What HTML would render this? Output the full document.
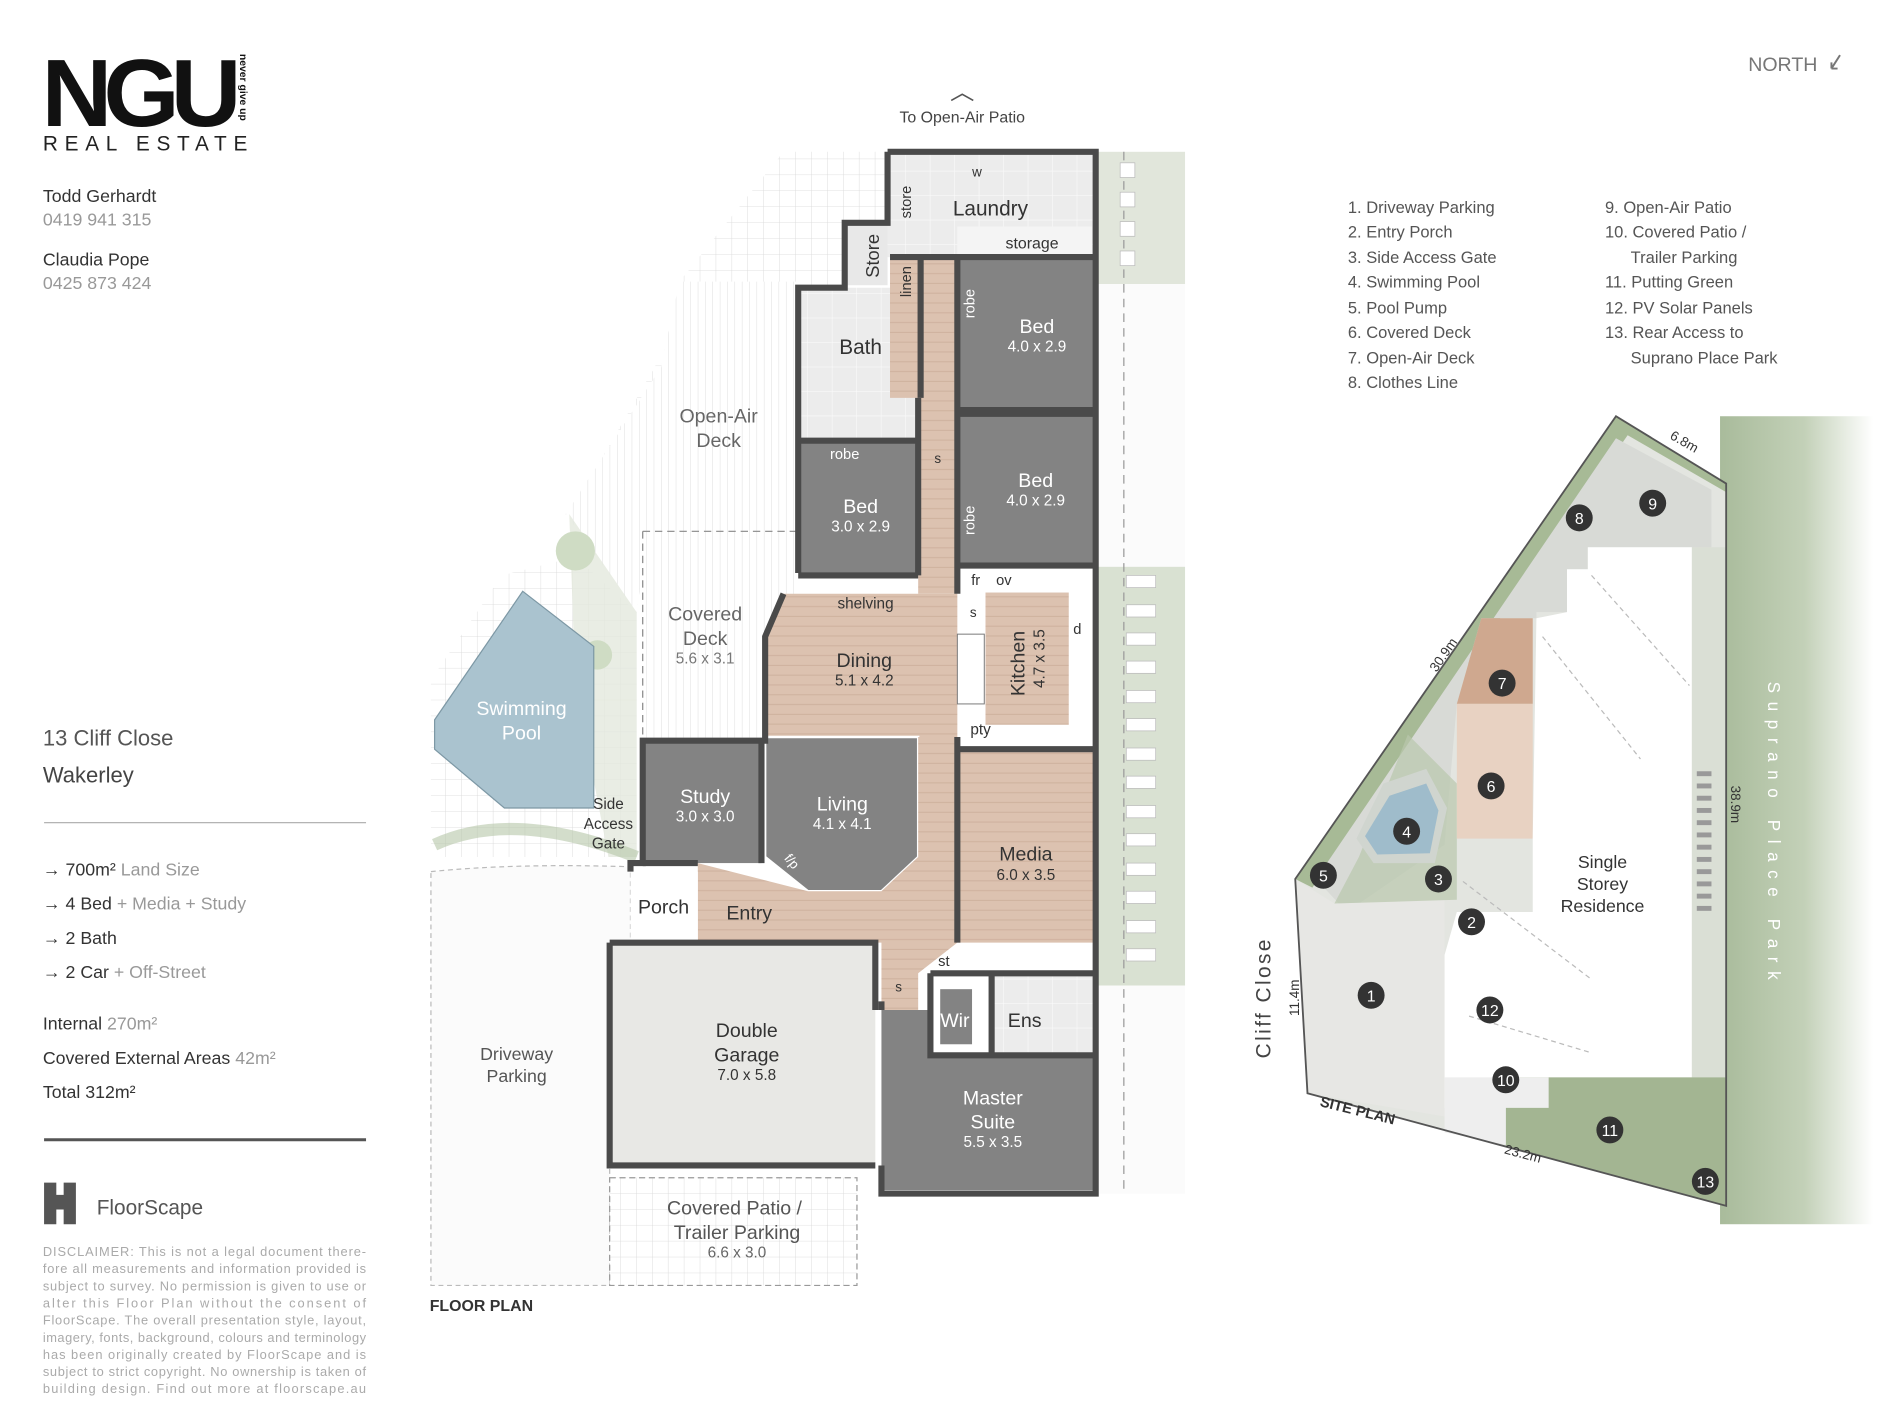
<!DOCTYPE html>
<html><head><meta charset="utf-8"><style>
html,body{margin:0;padding:0;background:#fff}
svg{display:block}
text{font-family:"Liberation Sans",sans-serif}
</style></head><body>
<svg width="1900" height="1425" viewBox="0 0 1552 1164" xmlns="http://www.w3.org/2000/svg">
<defs>
<pattern id="grid" width="13" height="13" patternUnits="userSpaceOnUse"><rect width="13" height="13" fill="#fff"/><path d="M13 0V13H0" fill="none" stroke="#d8d8d8" stroke-width="0.7"/></pattern>
<pattern id="vlines" width="6" height="6" patternUnits="userSpaceOnUse"><rect width="6" height="6" fill="#fff"/><path d="M0 0V6" stroke="#dadada" stroke-width="0.7"/></pattern>
<pattern id="wood" width="60" height="8" patternUnits="userSpaceOnUse"><rect width="60" height="8" fill="#dcc2b0"/><path d="M0 7.5H60" stroke="#ceb19d" stroke-width="0.8"/></pattern>
<pattern id="tile" width="20" height="20" patternUnits="userSpaceOnUse"><rect width="20" height="20" fill="#ececec"/><path d="M20 0V20H0" fill="none" stroke="#fafafa" stroke-width="1"/></pattern>
<linearGradient id="trees" x1="0" x2="1" y1="0" y2="0"><stop offset="0" stop-color="#93aa82"/><stop offset="0.55" stop-color="#b4c5a6"/><stop offset="1" stop-color="#fff"/></linearGradient>
</defs>

<!-- LEFT PANEL -->
<text x="34" y="103" font-size="78" font-weight="bold" fill="#111" letter-spacing="-7" textLength="156" lengthAdjust="spacingAndGlyphs">NGU</text>
<text transform="translate(196,44) rotate(90)" font-size="8.5" font-weight="bold" fill="#111">never give up</text>
<text x="35" y="123" font-size="17" fill="#222" letter-spacing="5.5">REAL ESTATE</text>
<text x="35" y="165" font-size="14.5" fill="#333">Todd Gerhardt</text>
<text x="35" y="184" font-size="14.5" fill="#999">0419 941 315</text>
<text x="35" y="217" font-size="14.5" fill="#333">Claudia Pope</text>
<text x="35" y="236" font-size="14.5" fill="#999">0425 873 424</text>
<text x="35" y="609" font-size="18" fill="#555">13 Cliff Close</text>
<text x="35" y="639" font-size="18" fill="#444">Wakerley</text>
<line x1="36" y1="672" x2="299" y2="672" stroke="#aaa" stroke-width="1"/>
<g font-size="14.5">
<text x="35" y="715" fill="#333">→ 700m² <tspan fill="#999">Land Size</tspan></text>
<text x="35" y="743" fill="#333">→ 4 Bed <tspan fill="#999">+ Media + Study</tspan></text>
<text x="35" y="771" fill="#333">→ 2 Bath</text>
<text x="35" y="799" fill="#333">→ 2 Car <tspan fill="#999">+ Off-Street</tspan></text>
<text x="35" y="841" fill="#333">Internal <tspan fill="#999">270m²</tspan></text>
<text x="35" y="869" fill="#333">Covered External Areas <tspan fill="#999">42m²</tspan></text>
<text x="35" y="897" fill="#333">Total 312m²</text>
</g>
<line x1="36" y1="931" x2="299" y2="931" stroke="#555" stroke-width="2.5"/>
<path d="M36 966h10v10h6v-10h10v34h-10v-12h-6v12h-10z" fill="#555"/>
<text x="79" y="992" font-size="17" fill="#555">FloorScape</text>
<g font-size="10.5" fill="#aaa">
<text x="35" y="1026" textLength="264" lengthAdjust="spacing">DISCLAIMER: This is not a legal document there-</text>
<text x="35" y="1040" textLength="264" lengthAdjust="spacing">fore all measurements and information provided is</text>
<text x="35" y="1054" textLength="264" lengthAdjust="spacing">subject to survey. No permission is given to use or</text>
<text x="35" y="1068" textLength="264" lengthAdjust="spacing">alter this Floor Plan without the consent of</text>
<text x="35" y="1082" textLength="264" lengthAdjust="spacing">FloorScape. The overall presentation style, layout,</text>
<text x="35" y="1096" textLength="264" lengthAdjust="spacing">imagery, fonts, background, colours and terminology</text>
<text x="35" y="1110" textLength="264" lengthAdjust="spacing">has been originally created by FloorScape and is</text>
<text x="35" y="1124" textLength="264" lengthAdjust="spacing">subject to strict copyright. No ownership is taken of</text>
<text x="35" y="1138" textLength="264" lengthAdjust="spacing">building design. Find out more at floorscape.au</text>
</g>

<!-- FLOOR PLAN -->
<text x="786" y="100" font-size="13" fill="#444" text-anchor="middle">To Open-Air Patio</text>
<path d="M777 82l9-5 9 5" fill="none" stroke="#555" stroke-width="1.3"/>
<polygon points="640,124 725,124 725,182 690,182 690,235 652,235 652,465 525,465 520,500 465,420 555,265 555,230" fill="url(#grid)"/>
<polygon points="555,230 652,230 652,465 525,465 520,500 462,420 540,300" fill="url(#vlines)"/>
<rect x="525" y="434" width="127" height="172" fill="url(#vlines)"/>
<path d="M525 434H652M525 434V605" stroke="#888" stroke-dasharray="6 4" fill="none"/>
<polygon points="352,555 410,470 470,455 520,500 520,700 352,700" fill="url(#grid)"/>
<polygon points="465,420 520,500 520,700 497,700 470,560" fill="#e3e9dd" opacity="0.8"/>
<circle cx="470" cy="450" r="16" fill="#cfdcc4"/><circle cx="488" cy="535" r="12" fill="#cfdcc4"/>
<polygon points="427,483 485,528 485,660 412,660 355,612 355,588" fill="#aac3cf" stroke="#7d98a5" stroke-width="1"/>
<path d="M355 690 Q420 660 520 700" fill="none" stroke="#b5c6a8" stroke-width="10" opacity="0.6"/>
<path d="M352 712 Q420 705 515 708 V770 H498 V1050 H352Z" fill="#fbfbfb" stroke="#bbb" stroke-dasharray="4 3"/>
<rect x="897" y="124" width="71" height="108" fill="#e1e6db"/>
<rect x="897" y="232" width="71" height="231" fill="#fbfbfb"/>
<rect x="897" y="463" width="71" height="342" fill="#d9e1d2"/>
<rect x="897" y="805" width="71" height="170" fill="#fbfbfb"/>
<line x1="918" y1="124" x2="918" y2="975" stroke="#999" stroke-dasharray="7 5"/>
<g fill="#fff" stroke="#bbb" stroke-width="0.6">
<rect x="915" y="133" width="12" height="12"/><rect x="915" y="157" width="12" height="12"/><rect x="915" y="181" width="12" height="12"/><rect x="915" y="205" width="12" height="12"/>
<rect x="920" y="470" width="24" height="10"/><rect x="920" y="494" width="24" height="10"/><rect x="920" y="517" width="24" height="10"/><rect x="920" y="540" width="24" height="10"/><rect x="920" y="564" width="24" height="10"/><rect x="920" y="587" width="24" height="10"/><rect x="920" y="611" width="24" height="10"/><rect x="920" y="634" width="24" height="10"/><rect x="920" y="658" width="24" height="10"/><rect x="920" y="681" width="24" height="10"/><rect x="920" y="705" width="24" height="10"/><rect x="920" y="728" width="24" height="10"/><rect x="920" y="752" width="24" height="10"/><rect x="920" y="775" width="24" height="10"/>
</g>
<rect x="498" y="962" width="202" height="88" fill="url(#grid)" stroke="#999" stroke-dasharray="5 3"/>

<polygon points="725,124 895,124 895,210 725,210" fill="url(#tile)"/>
<rect x="782" y="185" width="110" height="25" fill="#f4f4f4"/>
<rect x="690" y="183" width="35" height="50" fill="#e8e8e8"/>
<polygon points="652,235 752,235 752,325 782,340 782,360 652,360" fill="url(#tile)"/>
<polygon points="727,210 782,210 782,485 750,485 750,325 727,325" fill="url(#wood)"/>
<rect x="782" y="212" width="111" height="123" fill="#838383"/>
<rect x="782" y="340" width="111" height="122" fill="#838383"/>
<rect x="652" y="362" width="98" height="106" fill="#838383"/>
<rect x="782" y="462" width="111" height="22" fill="#fff"/>
<polygon points="640,485 893,485 893,612 782,612 782,605 625,605 625,520" fill="url(#wood)"/>
<rect x="782" y="484" width="111" height="128" fill="#fff"/>
<rect x="805" y="484" width="68" height="108" fill="url(#wood)"/>
<rect x="782" y="518" width="22" height="57" fill="#fff" stroke="#777" stroke-width="0.8"/>
<rect x="525" y="605" width="97" height="100" fill="#838383"/>
<polygon points="625,602 750,602 750,700 720,728 660,728 625,700" fill="#838383" stroke="#fff" stroke-width="2"/>
<polygon points="782,612 893,612 893,770 782,770" fill="url(#wood)"/>
<polygon points="570,705 660,728 720,728 750,700 750,602 782,602 782,770 750,795 750,825 720,825 720,770 570,770" fill="url(#wood)"/>
<rect x="515" y="712" width="55" height="58" fill="#fff"/>
<rect x="498" y="770" width="217" height="180" fill="#e8e8e5"/>
<rect x="760" y="797" width="50" height="65" fill="#fff"/><rect x="768" y="808" width="26" height="45" fill="#838383"/>
<rect x="810" y="797" width="83" height="65" fill="url(#tile)"/>
<polygon points="720,825 760,825 760,862 893,862 893,972 720,972" fill="#838383"/>

<g fill="none" stroke="#4a4a4a" stroke-width="5">
<path d="M725 124H895V975H720V952M720 825V818"/>
<path d="M725 124V182H690V235H652V468"/>
<path d="M782 210V485M782 335H893M782 338H893M782 462H893M652 360H750M750 325V470M652 470H750"/>
<path d="M727 210H893"/>
<path d="M640 485L625 520V605H525V705H515V712"/>
<path d="M622 605V705M525 705H570"/>
<path d="M498 770V952H715M498 770H715V825"/>
<path d="M782 612H893M782 602V770M760 795H893M760 795V862H893M810 797V862"/>
<path d="M752 210V325"/>
</g>

<g fill="#333" text-anchor="middle">
<text x="809" y="176" font-size="17">Laundry</text>
<text x="843" y="203" font-size="13">storage</text>
<text x="798" y="144" font-size="11">w</text>
<text transform="translate(744,165) rotate(-90)" font-size="12">store</text>
<text transform="translate(718,209) rotate(-90)" font-size="15">Store</text>
<text transform="translate(744,230) rotate(-90)" font-size="12">linen</text>
<text x="703" y="289" font-size="17">Bath</text>
<text x="587" y="345" font-size="16" fill="#666">Open-Air</text>
<text x="587" y="365" font-size="16" fill="#666">Deck</text>
<text x="576" y="507" font-size="16" fill="#666">Covered</text>
<text x="576" y="527" font-size="16" fill="#666">Deck</text>
<text x="576" y="542" font-size="12.5" fill="#777">5.6 x 3.1</text>
<text x="426" y="584" font-size="16" fill="#fff">Swimming</text>
<text x="426" y="604" font-size="16" fill="#fff">Pool</text>
<text x="497" y="661" font-size="12.5">Side</text>
<text x="497" y="677" font-size="12.5">Access</text>
<text x="497" y="693" font-size="12.5">Gate</text>
<text x="706" y="545" font-size="16">Dining</text>
<text x="706" y="560" font-size="12.5">5.1 x 4.2</text>
<text x="707" y="497" font-size="12.5">shelving</text>
<text transform="translate(837,542) rotate(-90)" font-size="16">Kitchen</text>
<text transform="translate(853,538) rotate(-90)" font-size="12.5">4.7 x 3.5</text>
<text x="801" y="600" font-size="12.5">pty</text>
<text x="797" y="478" font-size="12">fr</text><text x="820" y="478" font-size="12">ov</text>
<text x="880" y="518" font-size="12">d</text>
<text x="766" y="378" font-size="11">s</text><text x="795" y="504" font-size="11">s</text><text x="734" y="810" font-size="11">s</text>
<text x="690" y="375" font-size="12" fill="#fff">robe</text>
<text transform="translate(796,248) rotate(-90)" font-size="12" fill="#fff">robe</text>
<text transform="translate(796,425) rotate(-90)" font-size="12" fill="#fff">robe</text>
<text x="847" y="272" font-size="16" fill="#fff">Bed</text><text x="847" y="287" font-size="12.5" fill="#fff">4.0 x 2.9</text>
<text x="846" y="398" font-size="16" fill="#fff">Bed</text><text x="846" y="413" font-size="12.5" fill="#fff">4.0 x 2.9</text>
<text x="703" y="419" font-size="16" fill="#fff">Bed</text><text x="703" y="434" font-size="12.5" fill="#fff">3.0 x 2.9</text>
<text x="576" y="656" font-size="16" fill="#fff">Study</text><text x="576" y="671" font-size="12.5" fill="#fff">3.0 x 3.0</text>
<text x="688" y="662" font-size="16" fill="#fff">Living</text><text x="688" y="677" font-size="12.5" fill="#fff">4.1 x 4.1</text>
<text transform="translate(644,706) rotate(50)" font-size="11" fill="#fff">f/p</text>
<text x="838" y="703" font-size="16">Media</text><text x="838" y="719" font-size="12.5">6.0 x 3.5</text>
<text x="542" y="746" font-size="16">Porch</text>
<text x="612" y="751" font-size="16">Entry</text>
<text x="771" y="789" font-size="12">st</text>
<text x="780" y="839" font-size="16" fill="#fff">Wir</text>
<text x="837" y="839" font-size="16">Ens</text>
<text x="610" y="847" font-size="16">Double</text><text x="610" y="867" font-size="16">Garage</text><text x="610" y="882" font-size="12.5">7.0 x 5.8</text>
<text x="422" y="866" font-size="14.5" fill="#555">Driveway</text><text x="422" y="884" font-size="14.5" fill="#555">Parking</text>
<text x="811" y="902" font-size="16" fill="#fff">Master</text><text x="811" y="922" font-size="16" fill="#fff">Suite</text><text x="811" y="937" font-size="12.5" fill="#fff">5.5 x 3.5</text>
<text x="600" y="992" font-size="16" fill="#555">Covered Patio /</text><text x="602" y="1012" font-size="16" fill="#555">Trailer Parking</text><text x="602" y="1027" font-size="12.5" fill="#666">6.6 x 3.0</text>
</g>
<text x="351" y="1071" font-size="13" font-weight="bold" fill="#333">FLOOR PLAN</text>

<text x="1428" y="58" font-size="16" fill="#777">NORTH</text>
<path d="M1503 45l-7 11M1496 56h5M1496 56v-5" stroke="#777" stroke-width="1.6" fill="none"/>
<g font-size="13.5" fill="#555">
<text x="1101" y="174">1. Driveway Parking</text><text x="1101" y="194">2. Entry Porch</text><text x="1101" y="215">3. Side Access Gate</text><text x="1101" y="235">4. Swimming Pool</text><text x="1101" y="256">5. Pool Pump</text><text x="1101" y="276">6. Covered Deck</text><text x="1101" y="297">7. Open-Air Deck</text><text x="1101" y="317">8. Clothes Line</text>
<text x="1311" y="174">9. Open-Air Patio</text><text x="1311" y="194">10. Covered Patio /</text><text x="1332" y="215">Trailer Parking</text><text x="1311" y="235">11. Putting Green</text><text x="1311" y="256">12. PV Solar Panels</text><text x="1311" y="276">13. Rear Access to</text><text x="1332" y="297">Suprano Place Park</text>
</g>

<!-- SITE PLAN -->
<rect x="1405" y="340" width="125" height="660" fill="url(#trees)" opacity="0.8"/>
<polygon points="1058,718 1320,340 1410,395 1410,985 1068,893" fill="#e3e5e0"/>
<polygon points="1058,718 1320,340 1332,352 1072,725" fill="#a7ba96"/>
<polygon points="1320,340 1410,395 1410,402 1320,350" fill="#a7ba96"/>
<polygon points="1075,718 1320,358 1398,400 1398,447 1297,447 1297,465 1280,465 1280,500 1255,500 1255,505 1210,505 1190,575 1180,690 1100,745" fill="#d8dad6"/>
<polygon points="1058,718 1090,738 1180,735 1180,912 1068,893" fill="#e7e7e4"/>
<polygon points="1150,600 1190,640 1190,735 1090,738 1110,700" fill="#b9c8ac" opacity="0.7"/>
<polygon points="1210,505 1252,505 1252,575 1190,575" fill="#cfa88f"/>
<polygon points="1190,575 1252,575 1252,685 1190,685" fill="#e8d2c2"/>
<polygon points="1130,640 1165,628 1182,660 1172,705 1122,705 1108,685" fill="#d0d5cf"/>
<polygon points="1135,650 1165,640 1175,662 1168,697 1125,698 1115,683" fill="#9fbccb"/>
<polygon points="1297,447 1382,447 1382,880 1265,880 1265,905 1180,905 1180,780 1190,745 1252,745 1252,685 1255,505 1280,500 1280,465 1297,465" fill="#fff"/>
<rect x="1382" y="447" width="28" height="433" fill="#dadfd5"/>
<g fill="#999"><rect x="1386" y="630" width="12" height="4"/><rect x="1386" y="640" width="12" height="4"/><rect x="1386" y="650" width="12" height="4"/><rect x="1386" y="660" width="12" height="4"/><rect x="1386" y="670" width="12" height="4"/><rect x="1386" y="680" width="12" height="4"/><rect x="1386" y="690" width="12" height="4"/><rect x="1386" y="700" width="12" height="4"/><rect x="1386" y="710" width="12" height="4"/><rect x="1386" y="720" width="12" height="4"/><rect x="1386" y="730" width="12" height="4"/><rect x="1386" y="740" width="12" height="4"/></g>
<polygon points="1230,880 1410,880 1410,985 1230,937" fill="#a3b592"/>
<polygon points="1180,880 1265,880 1265,905 1230,905 1230,935 1180,925" fill="#eee"/>
<polygon points="1058,718 1320,340 1410,395 1410,985 1068,893" fill="none" stroke="#555" stroke-width="1.5"/>
<g stroke="#bbb" stroke-dasharray="4 3" fill="none"><path d="M1300 470 L1380 560 M1260 520 L1340 620 M1195 720 L1300 800 M1200 830 L1300 860"/></g>
<g fill="#333">
<circle cx="1120" cy="813" r="11"/><circle cx="1202" cy="753" r="11"/><circle cx="1175" cy="718" r="11"/><circle cx="1149" cy="679" r="11"/><circle cx="1081" cy="715" r="11"/><circle cx="1218" cy="642" r="11"/><circle cx="1227" cy="558" r="11"/><circle cx="1290" cy="423" r="11"/><circle cx="1350" cy="411" r="11"/><circle cx="1230" cy="882" r="11"/><circle cx="1315" cy="923" r="11"/><circle cx="1217" cy="825" r="11"/><circle cx="1393" cy="965" r="11"/>
</g>
<g fill="#fff" font-size="13" text-anchor="middle">
<text x="1120" y="818">1</text><text x="1202" y="758">2</text><text x="1175" y="723">3</text><text x="1149" y="684">4</text><text x="1081" y="720">5</text><text x="1218" y="647">6</text><text x="1227" y="563">7</text><text x="1290" y="428">8</text><text x="1350" y="416">9</text><text x="1230" y="887">10</text><text x="1315" y="928">11</text><text x="1217" y="830">12</text><text x="1393" y="970">13</text>
</g>
<g fill="#333" text-anchor="middle" font-size="14.5">
<text x="1309" y="709">Single</text><text x="1309" y="727">Storey</text><text x="1309" y="745">Residence</text>
</g>
<text transform="translate(1444,682) rotate(90)" font-size="14" fill="#fff" letter-spacing="7" text-anchor="middle">Suprano Place Park</text>
<text transform="translate(1414,657) rotate(90)" font-size="11" fill="#333" text-anchor="middle">38.9m</text>
<text transform="translate(1182,537) rotate(-55)" font-size="11" fill="#333" text-anchor="middle">30.9m</text>
<text transform="translate(1374,364) rotate(30)" font-size="11" fill="#333" text-anchor="middle">6.8m</text>
<text transform="translate(1243,946) rotate(15)" font-size="11" fill="#333" text-anchor="middle">23.2m</text>
<text transform="translate(1108,911) rotate(14)" font-size="12" font-weight="bold" fill="#333" text-anchor="middle">SITE PLAN</text>
<text transform="translate(1038,815) rotate(-90)" font-size="17" fill="#444" letter-spacing="2" text-anchor="middle">Cliff Close</text>
<text transform="translate(1061,815) rotate(-90)" font-size="11" fill="#333" text-anchor="middle">11.4m</text>
</svg>
</body></html>
